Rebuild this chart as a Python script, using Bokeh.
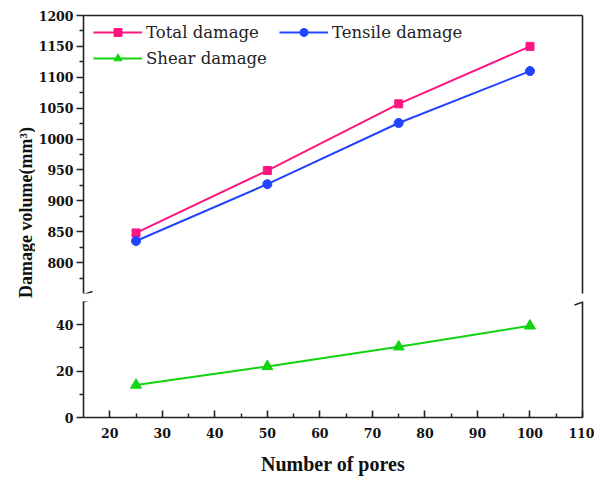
import math
from bokeh.plotting import figure
from bokeh.models import (Range1d, FixedTicker, LinearAxis, Legend, LegendItem, Arrow)
from bokeh.layouts import row, column
from bokeh.embed import file_html
from bokeh.resources import INLINE
from bokeh.core.properties import value

# ---------------- data ----------------
pores = [25, 50, 75, 100]
total_damage = [848, 949, 1057, 1150]
tensile_damage = [835, 927, 1026, 1110]
shear_damage = [14, 22, 30.5, 39.5]

x_ticks = [20, 30, 40, 50, 60, 70, 80, 90, 100, 110]
x_minor = [25, 35, 45, 55, 65, 75, 85, 95, 105]
upper_ticks = [800, 850, 900, 950, 1000, 1050, 1100, 1150, 1200]
upper_minor = [775, 825, 875, 925, 975, 1025, 1075, 1125, 1175]
lower_ticks = [0, 20, 40]
lower_minor = [10, 30]

x_label = "Number of pores"
y_label = "Damage volume(mm\u00b3)"
series_names = ["Total damage", "Tensile damage", "Shear damage"]

# ---------------- style ----------------
PINK = "#FF1480"
BLUE = "#2244FF"
GREEN = "#11D411"
AX = "#222222"
FONT = "Liberation Serif"
TICK_FONT = "DejaVu Serif"
LEG_FONT = "DejaVu Serif"

X0, X1 = 15, 110
UY0, UY1 = 750, 1200
LY0, LY1 = 0, 50

LAB_W = 35
BORDER_L = 48
FW = 499
FIG_W = 594 - LAB_W
UP_H, UP_TOP, UP_BOT = 298, 15, 5
LO_H, LO_TOP, LO_BOT = 182, 3, 63
UFH = UP_H - UP_TOP - UP_BOT
LFH = LO_H - LO_TOP - LO_BOT
BORDER_R = FIG_W - BORDER_L - FW


def style_tick_axis(ax, inward, font):
    ax.axis_line_color = AX
    ax.axis_line_width = 1.6
    ax.major_tick_line_color = AX
    ax.minor_tick_line_color = AX
    ax.major_tick_line_width = 1.6
    ax.minor_tick_line_width = 1.4
    if inward:
        ax.major_tick_in, ax.major_tick_out = 7, 0
        ax.minor_tick_in, ax.minor_tick_out = 4, 0
    else:
        ax.major_tick_in, ax.major_tick_out = 0, 7
        ax.minor_tick_in, ax.minor_tick_out = 0, 4
    ax.major_label_text_font = font
    ax.major_label_text_font_style = "bold"
    ax.major_label_text_font_size = "12.5px"
    ax.major_label_text_color = "#111111"


def plain_axis():
    return LinearAxis(ticker=FixedTicker(ticks=[]), major_tick_in=0, major_tick_out=0,
                      minor_tick_in=0, minor_tick_out=0, major_label_text_font_size="0px",
                      axis_line_color=AX, axis_line_width=1.6)


# ---------------- upper panel ----------------
up = figure(width=FIG_W, height=UP_H, x_range=Range1d(X0, X1), y_range=Range1d(UY0, UY1),
            output_backend="svg", toolbar_location=None,
            x_axis_location=None, y_axis_location=None,
            min_border_left=BORDER_L, min_border_right=BORDER_R, min_border_top=UP_TOP,
            min_border_bottom=UP_BOT, outline_line_color=None)
up.grid.visible = False

uy = LinearAxis(ticker=FixedTicker(ticks=upper_ticks, minor_ticks=upper_minor))
style_tick_axis(uy, inward=False, font=TICK_FONT)
uy.major_label_standoff = 3
up.add_layout(uy, "left")
up.add_layout(plain_axis(), "right")
up.add_layout(plain_axis(), "above")

l1 = up.line(pores, total_damage, line_color=PINK, line_width=2)
s1 = up.scatter(pores, total_damage, marker="square", size=8, fill_color=PINK, line_color=PINK)
l2 = up.line(pores, tensile_damage, line_color=BLUE, line_width=2)
s2 = up.scatter(pores, tensile_damage, marker="circle", size=9, fill_color=BLUE, line_color=BLUE)
# proxies for the legend (shear values lie below this panel's range)
l3p = up.line(pores, shear_damage, line_color=GREEN, line_width=2)
s3p = up.scatter(pores, shear_damage, marker="triangle", size=11, fill_color=GREEN, line_color=GREEN)

legend = Legend(items=[LegendItem(label=series_names[0], renderers=[l1, s1]),
                       LegendItem(label=series_names[1], renderers=[l2, s2]),
                       LegendItem(label=series_names[2], renderers=[l3p, s3p])],
                location=(10, 225), orientation="horizontal", ncols=2,
                label_text_font=LEG_FONT, label_text_font_size="16.5px", label_text_color="#222222",
                glyph_width=49, glyph_height=20, label_standoff=4, label_height=20,
                label_width=127, spacing=6, padding=0, margin=0,
                border_line_color=None, background_fill_alpha=0)
up.add_layout(legend)

# ---------------- lower panel ----------------
lo = figure(width=FIG_W, height=LO_H, x_range=up.x_range, y_range=Range1d(LY0, LY1),
            output_backend="svg", toolbar_location=None,
            x_axis_location=None, y_axis_location=None,
            min_border_left=BORDER_L, min_border_right=BORDER_R, min_border_top=LO_TOP,
            min_border_bottom=LO_BOT, outline_line_color=None)
lo.grid.visible = False

ly = LinearAxis(ticker=FixedTicker(ticks=lower_ticks, minor_ticks=lower_minor))
style_tick_axis(ly, inward=False, font=TICK_FONT)
ly.major_label_standoff = 3
lo.add_layout(ly, "left")
lo.add_layout(plain_axis(), "right")

lx = LinearAxis(ticker=FixedTicker(ticks=x_ticks, minor_ticks=x_minor), axis_label=x_label)
style_tick_axis(lx, inward=True, font=TICK_FONT)
lx.major_label_standoff = 10
lx.axis_label_text_font = FONT
lx.axis_label_text_font_style = "bold"
lx.axis_label_text_font_size = "20px"
lx.axis_label_text_color = "#111111"
lx.axis_label_standoff = 12
lo.add_layout(lx, "below")

lo.line(pores, shear_damage, line_color=GREEN, line_width=2)
lo.scatter(pores, shear_damage, marker="triangle", size=11, fill_color=GREEN, line_color=GREEN)

# ---------------- axis break marks ----------------
xs_per_px = (X1 - X0) / FW
uys_per_px = (UY1 - UY0) / UFH
lys_per_px = (LY1 - LY0) / LFH
for xa in (X0, X1):
    up.add_layout(Arrow(end=None, x_start=xa - 8 * xs_per_px, y_start=UY0 - 4 * uys_per_px,
                        x_end=xa + 9 * xs_per_px, y_end=UY0 + 2 * uys_per_px,
                        line_color=AX, line_width=1.4))
    lo.add_layout(Arrow(end=None, x_start=xa - 8 * xs_per_px, y_start=LY1 - 3.5 * lys_per_px,
                        x_end=xa + 9 * xs_per_px, y_end=LY1 + 2.5 * lys_per_px,
                        line_color=AX, line_width=1.4))

# ---------------- y label strip ----------------
TOT_H = UP_H + LO_H
lab = figure(width=LAB_W, height=TOT_H, x_range=Range1d(0, LAB_W), y_range=Range1d(0, TOT_H),
             output_backend="svg", toolbar_location=None, x_axis_location=None,
             y_axis_location=None, min_border=0, outline_line_color=None)
lab.grid.visible = False
lab.text(x=[25], y=[TOT_H - 212], text=[y_label], angle=math.pi / 2,
         text_font=value(FONT), text_font_style="bold", text_font_size="18px",
         text_align="center", text_baseline="middle", text_color="#111111")

layout = row(lab, column(up, lo, spacing=0), spacing=0)
open("out.html", "w").write(file_html(layout, INLINE))
